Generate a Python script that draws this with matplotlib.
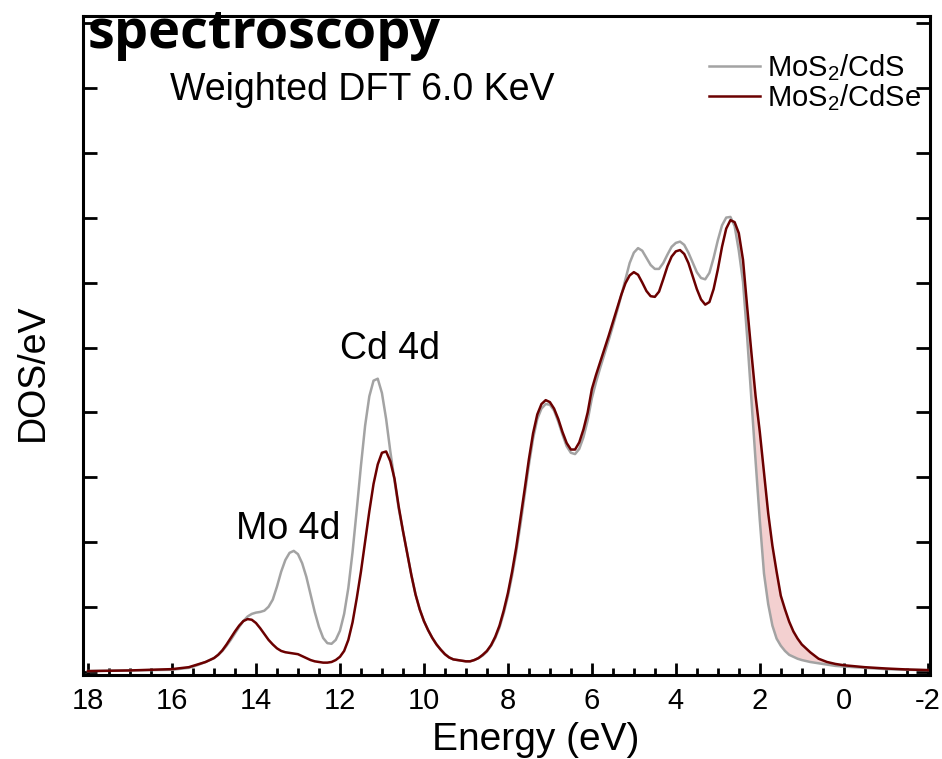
import numpy as np
import matplotlib
matplotlib.use("Agg")
import matplotlib.pyplot as plt
from matplotlib.ticker import MultipleLocator

plt.rcParams['font.family'] = ['Liberation Sans', 'DejaVu Sans']
plt.rcParams['mathtext.default'] = 'regular'
plt.rcParams['axes.unicode_minus'] = False

# binding energy (eV), high to low
energy = [18.0, 17.5, 17.0, 16.5, 16.0, 15.6, 15.4, 15.2,
          15.0, 14.9, 14.8, 14.7, 14.6, 14.5, 14.4, 14.3, 14.2, 14.1,
          14.0, 13.9, 13.8, 13.7, 13.6, 13.5, 13.4, 13.3, 13.2, 13.1,
          13.0, 12.9, 12.8, 12.7, 12.6, 12.5, 12.4, 12.3, 12.2, 12.1,
          12.0, 11.9, 11.8, 11.7, 11.6, 11.5, 11.4, 11.3, 11.2, 11.1,
          11.0, 10.9, 10.8, 10.7, 10.6, 10.5, 10.4, 10.3, 10.2, 10.1,
          10.0, 9.9, 9.8, 9.7, 9.6, 9.5, 9.4, 9.3, 9.2, 9.1,
          9.0, 8.9, 8.8, 8.7, 8.6, 8.5, 8.4, 8.3, 8.2, 8.1,
          8.0, 7.9, 7.8, 7.7, 7.6, 7.5, 7.4, 7.3, 7.2, 7.1,
          7.0, 6.9, 6.8, 6.7, 6.6, 6.5, 6.4, 6.3, 6.2, 6.1,
          6.0, 5.9, 5.8, 5.7, 5.6, 5.5, 5.4, 5.3, 5.2, 5.1,
          5.0, 4.9, 4.8, 4.7, 4.6, 4.5, 4.4, 4.3, 4.2, 4.1,
          4.0, 3.9, 3.8, 3.7, 3.6, 3.5, 3.4, 3.3, 3.2, 3.1,
          3.0, 2.9, 2.8, 2.7, 2.6, 2.5, 2.4, 2.3, 2.2, 2.1,
          2.0, 1.9, 1.8, 1.7, 1.6, 1.5, 1.4, 1.3, 1.2, 1.1,
          1.0, 0.8, 0.6, 0.4, 0.2, 0.0, -0.5, -1.0, -1.5, -2.0]

# weighted DOS, MoS2/CdS
dos_cds = [0.02, 0.025, 0.03, 0.035, 0.04, 0.07, 0.11, 0.16,
           0.22, 0.27, 0.33, 0.41, 0.50, 0.60, 0.70, 0.79, 0.86, 0.90,
           0.92, 0.93, 0.95, 1.01, 1.12, 1.32, 1.55, 1.73, 1.84, 1.87,
           1.82, 1.68, 1.47, 1.20, 0.93, 0.70, 0.53, 0.45, 0.44, 0.50,
           0.64, 0.90, 1.30, 1.85, 2.50, 3.18, 3.80, 4.25, 4.49, 4.52,
           4.30, 3.90, 3.40, 2.95, 2.52, 2.18, 1.84, 1.50, 1.20, 0.97,
           0.79, 0.65, 0.53, 0.43, 0.35, 0.28, 0.23, 0.20, 0.19, 0.18,
           0.17, 0.17, 0.19, 0.22, 0.26, 0.32, 0.41, 0.53, 0.69, 0.91,
           1.17, 1.49, 1.86, 2.28, 2.73, 3.19, 3.60, 3.90, 4.06, 4.13,
           4.12, 4.03, 3.86, 3.66, 3.48, 3.38, 3.36, 3.44, 3.62, 3.88,
           4.22, 4.47, 4.69, 4.90, 5.11, 5.33, 5.56, 5.80, 6.05, 6.30,
           6.46, 6.53, 6.49, 6.38, 6.27, 6.21, 6.21, 6.30, 6.43, 6.55,
           6.61, 6.63, 6.58, 6.46, 6.31, 6.16, 6.07, 6.05, 6.15, 6.38,
           6.65, 6.88, 7.00, 7.01, 6.87, 6.49, 6.01, 5.15, 4.20, 3.25,
           2.34, 1.52, 1.05, 0.72, 0.52, 0.41, 0.33, 0.27, 0.24, 0.21,
           0.19, 0.16, 0.14, 0.12, 0.10, 0.09, 0.07, 0.05, 0.04, 0.035]

# weighted DOS, MoS2/CdSe
dos_cdse = [0.02, 0.025, 0.03, 0.04, 0.05, 0.08, 0.12, 0.16,
            0.22, 0.27, 0.34, 0.43, 0.53, 0.63, 0.72, 0.79, 0.82, 0.81,
            0.76, 0.68, 0.59, 0.50, 0.43, 0.37, 0.33, 0.31, 0.30, 0.29,
            0.28, 0.25, 0.22, 0.19, 0.17, 0.16, 0.15, 0.15, 0.16, 0.19,
            0.24, 0.33, 0.50, 0.77, 1.14, 1.55, 2.02, 2.48, 2.90, 3.20,
            3.38, 3.40, 3.25, 2.98, 2.55, 2.18, 1.84, 1.50, 1.20, 0.97,
            0.79, 0.65, 0.53, 0.43, 0.35, 0.28, 0.23, 0.20, 0.19, 0.18,
            0.17, 0.17, 0.19, 0.22, 0.27, 0.33, 0.42, 0.55, 0.72, 0.95,
            1.22, 1.55, 1.93, 2.37, 2.82, 3.28, 3.68, 3.97, 4.13, 4.19,
            4.16, 4.06, 3.90, 3.70, 3.53, 3.43, 3.43, 3.54, 3.74, 4.00,
            4.36, 4.58, 4.78, 4.98, 5.18, 5.39, 5.60, 5.81, 5.99, 6.11,
            6.16, 6.12, 6.00, 5.87, 5.79, 5.78, 5.86, 6.05, 6.25, 6.40,
            6.48, 6.50, 6.44, 6.30, 6.10, 5.90, 5.74, 5.66, 5.70, 5.90,
            6.20, 6.55, 6.83, 6.96, 6.93, 6.76, 6.35, 5.62, 4.92, 4.25,
            3.70, 3.08, 2.45, 1.95, 1.55, 1.18, 0.97, 0.78, 0.63, 0.52,
            0.43, 0.31, 0.21, 0.16, 0.13, 0.11, 0.08, 0.06, 0.045, 0.035]

peak_labels = ["Mo 4d", "Cd 4d"]
peak_pos = [(13.24, 2.2), (10.81, 4.98)]

E = np.array(energy)
g = np.array(dos_cds)
r = np.array(dos_cdse)

fig = plt.figure(figsize=(9.42, 7.59), dpi=100)
ax = fig.add_axes([0.0881, 0.1107, 0.899, 0.868])

# shaded gap at the valence band edge
edge = (E < 2.6) & (r >= g)
ax.fill_between(E, g, r, where=edge, color='#f3d0d0', lw=0, interpolate=True)

ax.plot(E, g, color='#a3a3a3', lw=1.8, solid_joinstyle='round',
        label='MoS$_2$/CdS')
ax.plot(E, r, color='#6b0000', lw=1.8, solid_joinstyle='round',
        label='MoS$_2$/CdSe')

ax.set_xlim(18.12, -2.05)
ax.set_ylim(-0.04, 10.1)

ax.xaxis.set_major_locator(MultipleLocator(2))
ax.xaxis.set_minor_locator(MultipleLocator(0.5))
ax.yaxis.set_major_locator(MultipleLocator(1))
ax.tick_params(axis='y', which='major', direction='in', left=True, right=True,
               length=10, width=2, labelleft=False)
ax.tick_params(axis='x', which='major', direction='in', length=9, width=2,
               labelsize=21, pad=9)
ax.tick_params(axis='x', which='minor', direction='in', length=5, width=2)

for sp in ax.spines.values():
    sp.set_linewidth(2.2)

ax.set_xlabel('Energy (eV)', fontsize=28)
ax.xaxis.set_label_coords((536 - 83) / 847, -0.072)
ax.set_ylabel('DOS/eV', fontsize=27)
ax.yaxis.set_label_coords(-0.038, 0.46)

for txt, (x, y) in zip(peak_labels, peak_pos):
    ax.text(x, y, txt, fontsize=27, ha='center', va='center')

ax.text(0.103, 0.888, 'Weighted DFT 6.0 KeV', transform=ax.transAxes,
        fontsize=27, ha='left', va='center')

ax.legend(loc='upper right', bbox_to_anchor=(1.0, 0.958), frameon=False,
          fontsize=21, handlelength=1.75, handletextpad=0.25,
          labelspacing=-0.05, borderaxespad=0.0, borderpad=0.3)

fig.text(88 / 942, 1 - 48 / 759, 'spectroscopy', fontsize=39,
         fontweight='bold', family='Open Sans', ha='left', va='baseline')

fig.savefig('out.png', dpi=100)
